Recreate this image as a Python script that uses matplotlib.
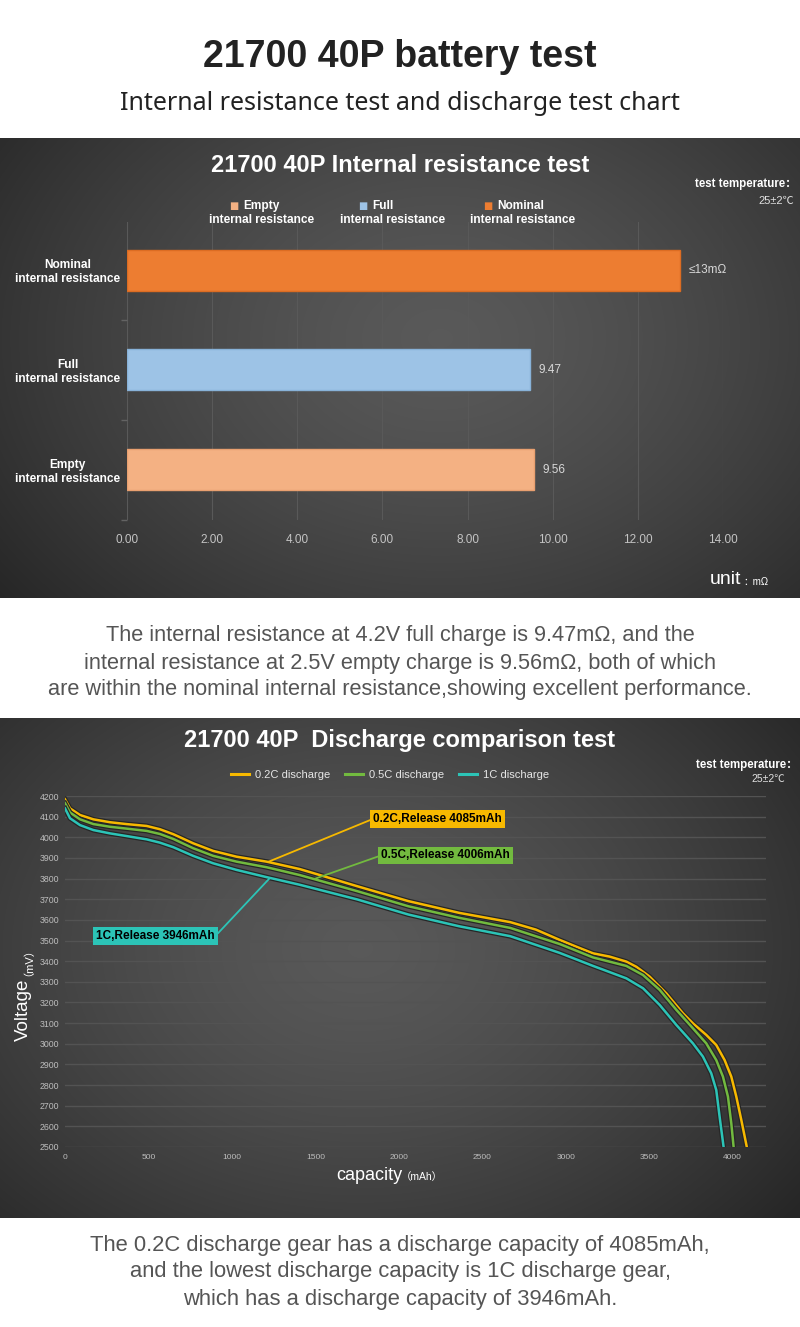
import numpy as np
import matplotlib
matplotlib.use("Agg")
import matplotlib.pyplot as plt
from matplotlib import patheffects as pe

plt.rcParams['font.family'] = ['Liberation Sans', 'Noto Sans CJK SC', 'DejaVu Sans']

# internal resistance data (mOhm)
ir_labels = ["Empty\ninternal resistance", "Full\ninternal resistance", "Nominal\ninternal resistance"]
ir_names = ["Empty", "Full", "Nominal"]
ir_values = [9.56, 9.47, 13.0]
ir_value_text = ["9.56", "9.47", "≤13mΩ"]
ir_colors = ["#F4B183", "#9DC3E6", "#ED7D31"]
ir_edges = ["#E9A070", "#88B2D8", "#DC6C22"]

# discharge curves: capacity (mAh) vs voltage (mV)
cap_02 = [0, 30, 90, 170, 269, 369, 489, 569, 649, 768, 888, 1028, 1208, 1407, 1751, 2057, 2362,
          2668, 2821, 2964, 3064, 3164, 3264, 3363, 3423, 3503, 3603, 3702, 3762, 3842, 3902,
          3952, 3992, 4022, 4052, 4085]
volt_02 = [4184, 4140, 4108, 4087, 4073, 4064, 4055, 4039, 4015, 3971, 3934, 3906, 3882, 3846, 3763,
           3691, 3634, 3589, 3553, 3503, 3470, 3438, 3422, 3398, 3373, 3325, 3244, 3148, 3099,
           3043, 2994, 2921, 2841, 2744, 2631, 2500]
cap_05 = [0, 30, 90, 170, 269, 369, 489, 569, 649, 768, 888, 1028, 1208, 1407, 1751, 2057, 2362,
          2668, 2964, 3164, 3363, 3463, 3563, 3663, 3762, 3842, 3902, 3942, 3972, 3992, 4006]
volt_05 = [4165, 4120, 4087, 4064, 4051, 4042, 4031, 4016, 3992, 3947, 3910, 3882, 3855, 3817, 3739,
           3666, 3610, 3561, 3483, 3418, 3377, 3333, 3261, 3164, 3075, 3002, 2921, 2841, 2744,
           2615, 2500]
cap_1c = [0, 30, 90, 170, 269, 369, 489, 569, 649, 768, 888, 1028, 1208, 1407, 1751, 2057, 2362,
          2668, 2964, 3164, 3363, 3463, 3563, 3663, 3762, 3822, 3872, 3902, 3922, 3946]
volt_1c = [4140, 4092, 4059, 4035, 4019, 4006, 3990, 3974, 3952, 3910, 3874, 3842, 3807, 3770, 3699,
           3626, 3569, 3521, 3440, 3377, 3317, 3269, 3188, 3091, 3002, 2938, 2857, 2776, 2647, 2500]
series_names = ["0.2C discharge", "0.5C discharge", "1C discharge"]
series_colors = ["#F7B900", "#72BA3F", "#2CC4B7"]
release_text = ["0.2C,Release 4085mAh", "0.5C,Release 4006mAh", "1C,Release 3946mAh"]
release_at = [1216, 1492, 1228]

W, H = 800, 1327
fig = plt.figure(figsize=(W / 100, H / 100), dpi=100)
fig.patch.set_facecolor("white")


def px_box(left, top, right, bottom):
    return [left / W, 1 - bottom / H, (right - left) / W, (bottom - top) / H]


def fx(x):
    return x / W


def fy(y):
    return 1 - y / H


def add_panel(top, bottom, cx, cy):
    ax = fig.add_axes(px_box(0, top, W, bottom))
    h = bottom - top
    yy, xx = np.mgrid[0:h, 0:W]
    r = np.sqrt(((xx - cx) / 560) ** 2 + ((yy - cy) / 420) ** 2)
    img = 0.35 - 0.20 * np.clip(r, 0, 1) ** 1.4
    rgb = np.dstack([img, img, img])
    ax.imshow(rgb, aspect="auto", extent=(0, 1, 0, 1), interpolation="bilinear")
    ax.axis("off")


# headers
fig.text(0.5, fy(57), "21700 40P battery test", ha="center", va="center",
         fontsize=27, fontweight="bold", color="#222222")
fig.text(0.5, fy(104), "Internal resistance test and discharge test chart", ha="center", va="center",
         fontsize=18, color="#222222", family=["Noto Sans", "DejaVu Sans"])

# ---------- panel 1: internal resistance ----------
add_panel(138, 598, 440, 200)
fig.text(0.5, fy(165), "21700 40P Internal resistance test", ha="center", va="center",
         fontsize=17, fontweight="bold", color="white")
fig.text(fx(797), fy(184), "test temperature：", ha="right", va="center",
         fontsize=8.3, fontweight="bold", color="white")
fig.text(fx(794), fy(201), "25±2℃", ha="right", va="center", fontsize=8, color="#e0e0e0")

ax1 = fig.add_axes(px_box(127, 222, 723, 520))
ax1.set_facecolor("none")
ypos = np.arange(len(ir_values))
ax1.barh(ypos, ir_values, height=0.41, color=ir_colors, edgecolor=ir_edges, linewidth=1, zorder=3)
for yv, v, t in zip(ypos, ir_values, ir_value_text):
    ax1.annotate(t, (v, yv), xytext=(6, 0), textcoords="offset points", va="center", ha="left",
                 fontsize=8.5, color="#d8d8d8")
ax1.set_xlim(0, 14)
ax1.set_ylim(-0.5, 2.48)
ax1.set_xticks(np.arange(0, 15, 2))
ax1.set_xticklabels([f"{v:.2f}" for v in np.arange(0, 15, 2)])
ax1.set_yticks(ypos)
ax1.set_yticklabels(ir_labels)
ax1.set_yticks([-0.5, 0.5, 1.5], minor=True)
ax1.grid(axis="x", color="#595959", lw=0.8)
ax1.set_axisbelow(True)
for s in ax1.spines.values():
    s.set_visible(False)
ax1.tick_params(axis="x", length=0, pad=10, labelcolor="#c4c4c4", labelsize=8.5)
ax1.tick_params(axis="y", which="major", length=0, pad=5, labelcolor="white", labelsize=8.6)
ax1.tick_params(axis="y", which="minor", length=4, width=1, color="#636363")
for t in ax1.get_yticklabels():
    t.set_fontweight("bold")
    t.set_multialignment("center")

# legend for bars
leg_name_x = [243, 372, 497]
leg_line_x = [262, 393, 523]
for name, col, nx, lx in zip(ir_names, ir_colors, leg_name_x, leg_line_x):
    fig.text(fx(nx - 14), fy(206), "■", ha="left", va="center", fontsize=7, color=col,
             family=["DejaVu Sans"])
    fig.text(fx(nx), fy(206), name, ha="left", va="center", fontsize=8.6, fontweight="bold", color="white")
    fig.text(fx(lx), fy(220), "internal resistance", ha="center", va="center",
             fontsize=8.6, fontweight="bold", color="white")

fig.text(fx(710), fy(580), "unit", ha="left", va="center", fontsize=14, color="white")
fig.text(fx(743), fy(582), "：mΩ", ha="left", va="center", fontsize=7, color="white")

# paragraph 1
para1 = ["The internal resistance at 4.2V full charge is 9.47mΩ, and the",
         "internal resistance at 2.5V empty charge is 9.56mΩ, both of which",
         "are within the nominal internal resistance,showing excellent performance."]
for i, line in enumerate(para1):
    fig.text(0.5, fy(636 + 27 * i), line, ha="center", va="center", fontsize=15.7, color="#555555")

# ---------- panel 2: discharge ----------
add_panel(718, 1218, 360, 230)
fig.text(0.5, fy(741), "21700 40P  Discharge comparison test", ha="center", va="center",
         fontsize=17, fontweight="bold", color="white")
fig.text(fx(798), fy(765), "test temperature：", ha="right", va="center",
         fontsize=8.3, fontweight="bold", color="white")
fig.text(fx(785), fy(779), "25±2℃", ha="right", va="center", fontsize=7.5, color="#e0e0e0")

ax2 = fig.add_axes(px_box(65, 796, 766, 1147))
ax2.set_facecolor("none")
curves = [(cap_02, volt_02), (cap_05, volt_05), (cap_1c, volt_1c)]
shadow = [pe.Stroke(linewidth=3.6, foreground="#262626"), pe.Normal()]
for (cx, cy), name, col in zip(curves, series_names, series_colors):
    ax2.plot(cx, cy, color=col, lw=1.8, label=name, path_effects=shadow, zorder=3,
             solid_joinstyle="round")

ax2.set_xlim(0, 4200)
ax2.set_ylim(2500, 4200)
ax2.set_xticks(np.arange(0, 4001, 500))
ax2.set_yticks(np.arange(2500, 4201, 100))
ax2.grid(axis="y", color="#535353", lw=1)
ax2.set_axisbelow(True)
for s in ax2.spines.values():
    s.set_visible(False)
ax2.tick_params(axis="x", length=0, pad=5, labelcolor="#bdbdbd", labelsize=6)
ax2.tick_params(axis="y", length=0, pad=4, labelcolor="#bdbdbd", labelsize=6.3)

leg = ax2.legend(ncol=3, loc="center", bbox_to_anchor=(fx(390), fy(775)), bbox_transform=fig.transFigure,
                 frameon=False, fontsize=8, labelcolor="#e6e6e6", handlelength=1.6,
                 columnspacing=1.4, handletextpad=0.5)
for ln in leg.get_lines():
    ln.set_path_effects([])
    ln.set_linewidth(2.2)

# release annotations
text_pos = [(1845, 4089, "left", 0.0), (1893, 3912, "left", 0.0), (899, 3520, "right", 1.0)]
for (cx, cy), txt, xm, col, (tx, ty, ha, rp) in zip(curves, release_text, release_at, series_colors, text_pos):
    ym = np.interp(xm, cx, cy)
    ax2.annotate(txt, xy=(xm, ym), xytext=(tx, ty), ha=ha, va="center", fontsize=8.5,
                 fontweight="bold", color="black", zorder=5,
                 bbox=dict(boxstyle="square,pad=0.25", fc=col, ec="none"),
                 arrowprops=dict(arrowstyle="-", color=col, lw=1.3, shrinkA=0, shrinkB=0,
                                 relpos=(rp, 0.5)))

fig.text(fx(23), fy(1041), "Voltage", rotation=90, ha="center", va="bottom", fontsize=13.5, color="white")
fig.text(fx(23), fy(976), "（mV）", rotation=90, ha="center", va="bottom", fontsize=8, color="white")
fig.text(fx(402), fy(1175), "capacity", ha="right", va="center", fontsize=13, color="white")
fig.text(fx(401), fy(1177), "（mAh）", ha="left", va="center", fontsize=7.5, color="white")

# paragraph 2
para2 = ["The 0.2C discharge gear has a discharge capacity of 4085mAh,",
         "and the lowest discharge capacity is 1C discharge gear,",
         "which has a discharge capacity of 3946mAh."]
for i, line in enumerate(para2):
    fig.text(0.5, fy(1245 + 27 * i), line, ha="center", va="center", fontsize=15.8, color="#555555")

fig.savefig("out.png", dpi=100, facecolor=fig.get_facecolor())
